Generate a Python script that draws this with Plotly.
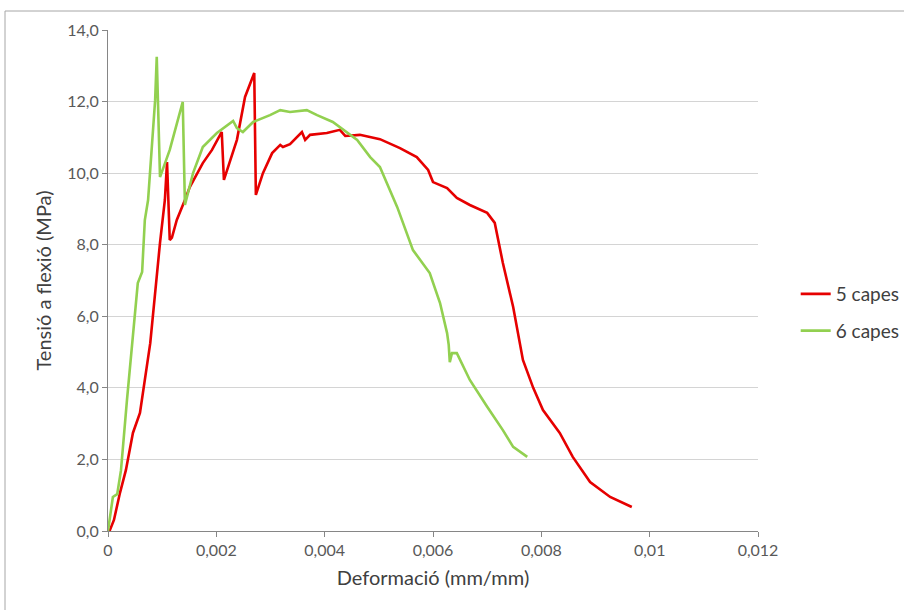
import plotly.graph_objects as go

# 5 capes (red)
x5 = [0, 0.000037, 0.00011, 0.00022, 0.00033, 0.00046, 0.00059, 0.00078, 0.00096, 0.00105,
      0.00109, 0.00114, 0.00118, 0.00127, 0.00142, 0.00151, 0.00175, 0.00192, 0.00210, 0.00214,
      0.00238, 0.00253, 0.00270, 0.00273, 0.00286, 0.00303, 0.00318, 0.00323, 0.00336, 0.00358,
      0.00364, 0.00373, 0.00404, 0.00428, 0.00438, 0.00465, 0.00502, 0.00539, 0.00570, 0.00591,
      0.00600, 0.00626, 0.00644, 0.00668, 0.00700, 0.00714, 0.00729, 0.00748, 0.00766, 0.00785,
      0.00803, 0.00834, 0.00858, 0.00890, 0.00927, 0.00967]
y5 = [0, 0.03, 0.31, 1.06, 1.70, 2.74, 3.30, 5.25, 8.05, 9.25,
      10.31, 8.13, 8.20, 8.69, 9.25, 9.61, 10.28, 10.65, 11.15, 9.81,
      10.93, 12.13, 12.80, 9.39, 10.00, 10.56, 10.79, 10.73, 10.81, 11.15,
      10.93, 11.07, 11.12, 11.21, 11.04, 11.07, 10.95, 10.70, 10.45, 10.09,
      9.75, 9.58, 9.31, 9.11, 8.89, 8.61, 7.49, 6.26, 4.78, 4.00,
      3.38, 2.74, 2.07, 1.37, 0.95, 0.67]

# 6 capes (green)
x6 = [0, 0.00009, 0.00017, 0.00024, 0.00035, 0.00055, 0.00063, 0.00068, 0.00074, 0.00081,
      0.00087, 0.00090, 0.00096, 0.00102, 0.00114, 0.00138, 0.00142, 0.00157, 0.00175, 0.00201,
      0.00231, 0.00238, 0.00249, 0.00268, 0.00299, 0.00318, 0.00336, 0.00367, 0.00386, 0.00415,
      0.00434, 0.00460, 0.00484, 0.00502, 0.00534, 0.00563, 0.00594, 0.00613, 0.00626, 0.00629,
      0.00631, 0.00635, 0.00644, 0.00668, 0.00700, 0.00729, 0.00748, 0.00774]
y6 = [0, 0.95, 1.03, 1.70, 3.66, 6.93, 7.24, 8.69, 9.25, 10.65,
      12.04, 13.25, 9.89, 10.14, 10.65, 11.99, 9.11, 10.00, 10.73, 11.12,
      11.46, 11.26, 11.15, 11.43, 11.62, 11.76, 11.71, 11.76, 11.62, 11.43,
      11.21, 10.93, 10.45, 10.17, 9.05, 7.85, 7.21, 6.37, 5.53, 5.20,
      4.72, 4.97, 4.97, 4.22, 3.47, 2.82, 2.35, 2.07]

x_tickvals = [0, 0.002, 0.004, 0.006, 0.008, 0.01, 0.012]
x_ticktext = ["0", "0,002", "0,004", "0,006", "0,008", "0,01", "0,012"]
y_tickvals = [0, 2, 4, 6, 8, 10, 12, 14]

FONT = "Lato"

fig = go.Figure()
fig.add_trace(go.Scatter(x=x5, y=y5, mode="lines", name="5 capes", legendgroup="a",
                         line=dict(color="#E60000", width=2.6)))
fig.add_trace(go.Scatter(x=x6, y=y6, mode="lines", name="6 capes", legendgroup="b",
                         line=dict(color="#92D050", width=2.6)))

fig.update_layout(
    width=904, height=610,
    margin=dict(l=108, r=146, t=30, b=79, autoexpand=False),
    paper_bgcolor="white", plot_bgcolor="white",
    separators=",.",
    font=dict(family=FONT, size=16, color="#404040"),
    showlegend=True,
    legend=dict(x=1.058, y=0.436, xanchor="left", yanchor="middle",
                font=dict(family=FONT, size=19, color="#404040"),
                tracegroupgap=9, bgcolor="rgba(0,0,0,0)"),
    xaxis=dict(range=[0, 0.012], tickvals=x_tickvals, ticktext=x_ticktext,
               showgrid=False, zeroline=False, showline=True, linecolor="#868686", linewidth=1,
               ticks="outside", ticklen=5, tickcolor="#868686",
               tickfont=dict(family=FONT, size=16, color="#595959"),
               title=dict(text="Deformació (mm/mm)", font=dict(family=FONT, size=20, color="#404040"),
                          standoff=12)),
    yaxis=dict(range=[0, 14], tickvals=y_tickvals, tickformat=".1f",
               showgrid=True, gridcolor="#D4D4D4", gridwidth=1, zeroline=False,
               showline=True, linecolor="#868686", linewidth=1,
               ticks="outside", ticklen=5, tickcolor="#868686",
               tickfont=dict(family=FONT, size=16, color="#595959"),
               title=dict(text="Tensió a flexió (MPa)", font=dict(family=FONT, size=20, color="#404040"),
                          standoff=10)),
)

# outer chart frame
fig.add_shape(type="rect", xref="paper", yref="paper",
              x0=(5 - 108) / 650, x1=(915 - 108) / 650,
              y0=(531 - 620) / 501, y1=(531 - 11) / 501,
              line=dict(color="#A6A6A6", width=1), fillcolor="rgba(0,0,0,0)", layer="below")

fig.write_html("out.html")
